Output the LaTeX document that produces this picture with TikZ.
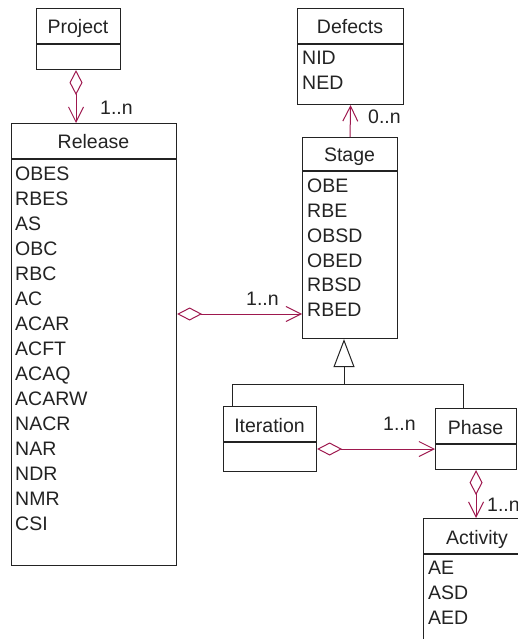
\documentclass[tikz,border=0pt]{standalone}
\usepackage{fontspec}
\setmainfont{Liberation Sans}
\usetikzlibrary{arrows.meta,calc}
\definecolor{assoc}{RGB}{158,24,78}
\definecolor{ink}{RGB}{35,35,35}

\begin{document}
\begin{tikzpicture}[x=1pt,y=-1pt,
  classbox/.style={draw=ink, line width=1.1pt, inner sep=0pt, anchor=north west},
  lbl/.style={font=\fontsize{19.5}{22}\selectfont, text=ink, inner sep=0pt,
              text height=14pt, text depth=0pt},
  attr/.style={lbl, anchor=west},
  ttl/.style={lbl, anchor=center},
  mult/.style={lbl, anchor=west},
  link/.style={draw=assoc, line width=1pt},
  agg/.style={link, {Diamond[open,length=25pt,width=13pt]}-{Straight Barb[length=15pt,width=15pt]}},
  nav/.style={link, -{Straight Barb[length=15pt,width=15pt]}},
  gen/.style={draw=ink, line width=1pt},
]
\useasboundingbox (0,0) rectangle (518,639);
\clip (0,0) rectangle (518,639);

% ---------- class boxes ----------
\node[classbox, minimum width=84pt,  minimum height=61pt]  (project)   at (36,8)   {};
\node[classbox, minimum width=165pt, minimum height=442pt] (release)   at (11,123) {};
\node[classbox, minimum width=106pt, minimum height=96pt]  (defects)   at (297,8)  {};
\node[classbox, minimum width=95pt,  minimum height=201pt] (stage)     at (302,137){};
\node[classbox, minimum width=93pt,  minimum height=65pt]  (iteration) at (223,406){};
\node[classbox, minimum width=81pt,  minimum height=61pt]  (phase)     at (435,408){};
\node[classbox, minimum width=108pt, minimum height=140pt] (activity)  at (423,518){};

% compartment dividers
\draw[ink, line width=1.1pt]
  (project.west |- 0,44)   -- (project.east |- 0,44)
  (release.west |- 0,159)  -- (release.east |- 0,159)
  (defects.west |- 0,44)   -- (defects.east |- 0,44)
  (stage.west |- 0,171)    -- (stage.east |- 0,171)
  (iteration.west |- 0,442)-- (iteration.east |- 0,442)
  (phase.west |- 0,444)    -- (phase.east |- 0,444)
  (activity.west |- 0,554) -- (activity.east |- 0,554);

% ---------- titles ----------
\node[ttl] (t-project)   at (78,27)    {Project};
\node[ttl] (t-release)   at (93.5,142) {Release};
\node[ttl] (t-defects)   at (350,27)   {Defects};
\node[ttl] (t-stage)     at (349.5,154){Stage};
\node[ttl] (t-iteration) at (269.5,425){Iteration};
\node[ttl] (t-phase)     at (475.5,427){Phase};
\node[ttl] (t-activity)  at (477,537)  {Activity};

% ---------- attributes ----------
\foreach \t [count=\i] in {OBES,RBES,AS,OBC,RBC,AC,ACAR,ACFT,ACAQ,ACARW,NACR,NAR,NDR,NMR,CSI}
  \node[attr] (rel-\i) at (15,{173+25.07*(\i-1)}) {\t};
\foreach \t [count=\i] in {NID,NED}
  \node[attr] (def-\i) at (302,{58+24.6*(\i-1)}) {\t};
\foreach \t [count=\i] in {OBE,RBE,OBSD,OBED,RBSD,RBED}
  \node[attr] (stg-\i) at (307,{186+24.7*(\i-1)}) {\t};
\foreach \t [count=\i] in {AE,ASD,AED}
  \node[attr] (act-\i) at (428,{567+25*(\i-1)}) {\t};

% ---------- associations ----------
\coordinate (prx) at (76,0);
\coordinate (rsy) at (0,314);
\coordinate (ipy) at (0,449);
\draw[agg] (project.south -| prx) -- (release.north -| prx);
\draw[agg] (release.east |- rsy) -- (stage.west |- rsy);
\draw[agg] (iteration.east |- ipy) -- (phase.west |- ipy);
\draw[agg] (phase.south) -- (activity.north -| phase.south);
\draw[nav] (stage.north) -- (defects.south);

% ---------- multiplicities ----------
\node[mult] (m-pr) at (100,108) {1..n};
\node[mult] (m-sd) at (368,117) {0..n};
\node[mult] (m-rs) at (246,298) {1..n};
\node[mult] (m-ip) at (383,423) {1..n};
\node[mult] (m-pa) at (487,504) {1..n};

% ---------- generalisation ----------
\coordinate (genj) at (344,384);
\coordinate (itx) at (232,0);
\coordinate (phx) at (463,0);
\draw[gen, -{Triangle[open,length=28pt,width=21pt]}] (genj) -- (stage.south -| genj);
\draw[gen] (iteration.north -| itx) -- (itx |- genj) -- (phx |- genj) -- (phase.north -| phx);
\end{tikzpicture}
\end{document}
